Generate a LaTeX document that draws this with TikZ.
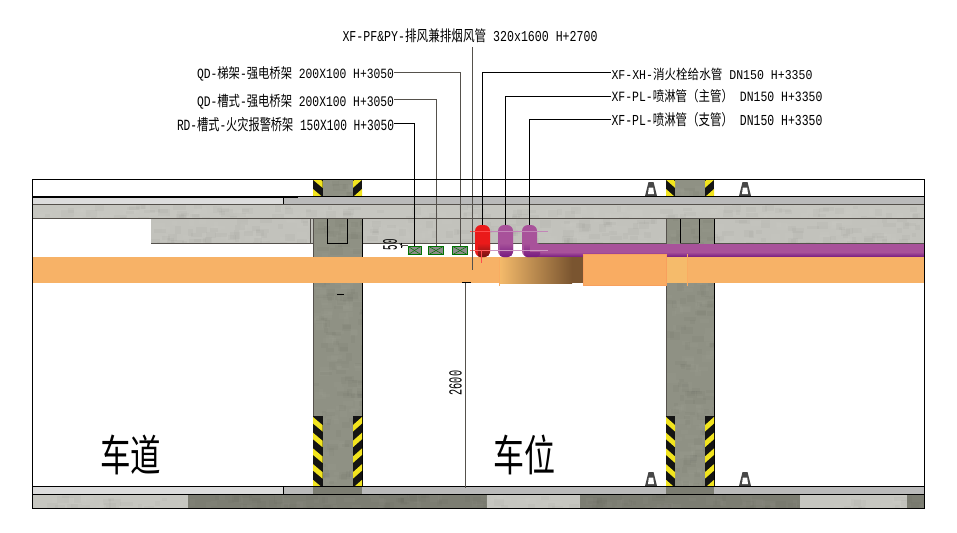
\documentclass[tikz,border=0pt]{standalone}
\usepackage{fontspec}
\usepackage{graphicx}
\setmainfont{Liberation Mono}
\newfontfamily\cjk{Noto Sans CJK SC}
\usetikzlibrary{calc}
\definecolor{slabc}{HTML}{C6C6C0}
\definecolor{beamc}{HTML}{C2C2BC}
\definecolor{colc}{HTML}{8F9184}
\definecolor{colb}{HTML}{7C7D72}
\definecolor{lightband}{HTML}{DCDCDC}
\definecolor{midband}{HTML}{BABABA}
\definecolor{duct}{HTML}{F7B267}
\definecolor{ductb}{HTML}{F9AC62}
\definecolor{ductl}{HTML}{F5BB6B}
\definecolor{ductm}{HTML}{D9A25F}
\definecolor{brownd}{HTML}{7A5530}
\definecolor{pur}{HTML}{A8529A}
\definecolor{purd}{HTML}{761A80}
\definecolor{redp}{HTML}{EA1A1A}
\definecolor{redd}{HTML}{701414}
\definecolor{edge}{HTML}{55514C}
\definecolor{hz}{HTML}{F2E41E}
\tikzset{
  lab/.style={inner sep=0pt,outer sep=0pt,text=black},
  leader/.style={draw=edge,line width=0.7pt},
  leaderk/.style={draw=black,line width=0.8pt},
  tray/.style={rectangle,draw=green!45!black,fill=gray!90,line width=0.8pt,minimum width=#1,minimum height=8.5pt,inner sep=0pt,outer sep=0pt},
  pipe/.style={rectangle,rounded corners=6pt,fill=#1,minimum width=15pt,minimum height=32pt,inner sep=0pt,outer sep=0pt},
  thinl/.style={line width=0.5pt},
}
\newcommand\lbl[6]{\node[lab] (#1) at (#2,#3) {\resizebox*{#4pt}{#5pt}{#6}};}
\newcommand\conc[6][60]{%
  \fill[#6] (#2,#3) rectangle (#4,#5);
  \begin{scope}
    \clip (#2,#3) rectangle (#4,#5);
    \pgfmathtruncatemacro\nn{max(2,abs(#4-#2)/#1*abs(#5-#3))}
    \foreach \i in {1,...,\nn}{
      \pgfmathsetmacro\xa{#2+rnd*(#4-#2)}
      \pgfmathsetmacro\ya{#3+rnd*(#5-#3)}
      \pgfmathsetmacro\wa{4+rnd*9}
      \pgfmathsetmacro\ha{3+rnd*5}
      \pgfmathparse{rnd>0.5?"black":"white"}
      \edef\cc{\pgfmathresult}
      \fill[\cc,opacity=.022] (\xa,\ya) rectangle ++(\wa,\ha);
    }
  \end{scope}
}
\newcommand\hazard[5]{% outer x, inner x, y0, y1, first y
  \fill[black!92] (#1,#3) rectangle (#2,#4);
  \begin{scope}
    \clip (#1,#3) rectangle (#2,#4);
    \foreach \k in {0,...,6}{
      \pgfmathsetmacro\yy{#5+15.7*\k}
      \fill[hz] (#1,\yy) -- (#2,\yy+8) -- (#2,\yy+14.5) -- (#1,\yy+6.5) -- cycle;
    }
  \end{scope}
}
\newcommand\cone[2]{%
  \begin{scope}[shift={(#1,#2)}]
    \fill[black!72] (-2.5,-14) -- (2.5,-14) -- (6,0) -- (-6,0) -- cycle;
    \fill[white] (-2.2,-8.5) -- (2.2,-8.5) -- (3,-2) -- (-3,-2) -- cycle;
  \end{scope}
}
\begin{document}
\begin{tikzpicture}[x=1pt,y=-1pt]
\pgfmathsetseed{4242}
\useasboundingbox (0,0) rectangle (957,532);
\fill[white] (0,0) rectangle (957,532);

% top band and slab
\fill[lightband] (32,197) rectangle (283,204);
\fill[midband] (283,197) rectangle (924,204);
\draw[black,line width=0.8pt] (283,197) -- (283,204);
\conc{32}{204}{924}{218}{slabc}
% beam
\conc{151}{218}{924}{243}{beamc}
\draw[edge,line width=0.9pt] (151,243) -- (924,243);
\draw[edge,thinl] (310.7,218) -- (310.7,243);
% columns
\foreach \xl/\xr in {313/362,666/714}{
  \conc{\xl}{179}{\xr}{196}{colc}
  \conc{\xl}{218}{\xr}{486}{colc}
  \fill[colb] (\xl,486) rectangle (\xr,494);
  \draw[edge,line width=0.6pt] (\xl,218) -- (\xl,486);
  \draw[black,line width=0.7pt] (\xr,218) -- (\xr,486);
}
\draw[black,line width=0.7pt] (327.5,218) -- (327.5,243) -- (347.5,243) -- (347.5,218);
\draw[black,line width=0.7pt] (680,218) -- (680,243);
\draw[black,line width=0.7pt] (699,218) -- (699,243);
\draw[edge,line width=0.8pt] (680,243) -- (699,243);
\draw[edge,line width=0.8pt] (32,204) -- (924,204);
\draw[edge,line width=0.8pt] (32,218) -- (924,218);

% hazard strips
\hazard{313}{322.5}{179}{196}{173.3}
\hazard{362}{353}{179}{196}{173.3}
\hazard{666}{675}{179}{196}{173.3}
\hazard{714}{705}{179}{196}{173.3}
\hazard{313}{322.5}{416}{486}{417}
\hazard{362}{353}{416}{486}{417}
\hazard{666}{675}{416}{486}{417}
\hazard{714}{705}{416}{486}{417}

% cones
\cone{651}{196}\cone{745}{196}\cone{651}{486}\cone{745}{486}

% bottom band and slab
\fill[lightband] (32,486) rectangle (283,494);
\fill[midband] (283,486) rectangle (313,494);
\fill[midband] (362,486) rectangle (666,494);
\fill[midband] (714,486) rectangle (924,494);
\draw[black,line width=0.7pt] (283,486) -- (283,494);
\conc{32}{494}{188}{508}{slabc}
\conc{188}{494}{487}{508}{colb}
\conc{487}{494}{580}{508}{slabc}
\conc{580}{494}{800}{508}{colb}
\conc{800}{494}{906.5}{508}{slabc}
\conc{906.5}{494}{924}{508}{colb}
\draw[black,line width=0.8pt] (32,486) -- (924,486);
\draw[black,line width=0.8pt] (32,494) -- (924,494);

% purple main
\fill[pur] (537,243.5) rectangle (924,253);
\shade[top color=pur,bottom color=purd] (537,252) rectangle (924,257);

% duct
\fill[duct] (32,257) rectangle (924,283);
\begin{scope}
  \clip (499,257) rectangle (583,283);
  \shade[left color=ductl,middle color=ductm,right color=brownd] (499,257) rectangle (572,283);
  \fill[brownd] (572,257) rectangle (583,283);
\end{scope}
\fill[ductb] (583,254) rectangle (666.5,285.5);
\draw[duct!90!red,line width=0.6pt] (583,254) rectangle (666.5,285.5);
\fill[ductl] (666.5,257) rectangle (687,283);
\draw[ductb,line width=1.2pt] (687.5,254) -- (687.5,286);
\draw[ductb,line width=0.8pt] (499,257) -- (499,286);

% trays
\node[tray=13pt] (t1) at (414.5,250.5) {};
\node[tray=15pt] (t2) at (436,250.5) {};
\node[tray=15pt] (t3) at (460,250.5) {};
\foreach \n in {t1,t2,t3}{
  \draw[green!45!black,line width=0.5pt] (\n.north west) -- (\n.center) -- (\n.north east);
  \draw[green!45!black,line width=0.5pt] (\n.south west) -- (\n.center) -- (\n.south east);
}

% pipes
\node[pipe=redp] (p1) at (482.5,241) {};
\node[pipe=pur] (p2) at (505.5,241) {};
\node[pipe=pur] (p3) at (529.5,241) {};
\begin{scope}
  \clip[rounded corners=5pt] (475,225) rectangle (490,257);
  \shade[top color=redp,bottom color=redd] (478,243) rectangle (491,257);
\end{scope}
\begin{scope}
  \clip[rounded corners=5pt] (498,225) rectangle (513,257);
  \shade[top color=pur,bottom color=purd] (500,243) rectangle (514,257);
\end{scope}
\shade[top color=pur,bottom color=purd,rounded corners=3pt] (524,243) rectangle (540,257);
\fill[pur] (530,243.5) rectangle (545,252);
\draw[red!70,thinl] (470,231) -- (490,231);
\draw[red!60,thinl] (470,250.5) -- (490,250.5);
\draw[pur!70,thinl] (490,231) -- (548,231);
\draw[pur!60,thinl] (490,250.5) -- (548,250.5);
\draw[red!70,line width=0.6pt] (481,250) -- (481,263);

% dimensions
\coordinate (dimT) at (465.5,282.5);
\coordinate (dimB) at (465.5,488);
\draw[edge,thinl] (dimT) -- (dimB);
\draw[black,line width=0.8pt] (462,282.5) -- (471,282.5);
\draw[black,thinl] (399.5,243.5) -- (402.5,247);
\draw[black,thinl] (401,242.5) -- (401,247.5);
\draw[edge,thinl] (401,245) -- (408,245);
\draw[black,line width=0.7pt] (337,294) -- (344,294);
\node[lab,rotate=90] (d50) at (390,244.5) {\resizebox*{11pt}{14pt}{50}};
\node[lab,rotate=90] (d2600) at (455.5,383) {\resizebox*{24.5pt}{12.5pt}{2600}};

% labels
\lbl{lPF}{470}{36}{255}{14}{XF-PF\&PY-{\cjk 排风兼排烟风管} 320x1600 H+2700}
\lbl{lQ1}{295.5}{73.5}{197}{14.5}{QD-{\cjk 梯架}-{\cjk 强电桥架} 200X100 H+3050}
\lbl{lQ2}{295.5}{101.5}{197}{15}{QD-{\cjk 槽式}-{\cjk 强电桥架} 200X100 H+3050}
\lbl{lR}{285.5}{124.5}{217}{14.5}{RD-{\cjk 槽式}-{\cjk 火灾报警桥架} 150X100 H+3050}
\lbl{lX}{712}{74}{201}{12.5}{XF-XH-{\cjk 消火栓给水管} DN150 H+3350}
\lbl{lP1}{717}{96.5}{211}{13.5}{XF-PL-{\cjk 喷淋管（主管）} DN150 H+3350}
\lbl{lP2}{717}{119.5}{211}{14.5}{XF-PL-{\cjk 喷淋管（支管）} DN150 H+3350}
\node[lab] (road) at (130.5,455) {\resizebox*{61pt}{40pt}{\cjk 车道}};
\node[lab] (bay) at (524,455) {\resizebox*{62pt}{40pt}{\cjk 车位}};

% leaders
\draw[leader] ([yshift=1pt]lQ1.east) -| (t3.north);
\draw[leader] ([yshift=2pt]lQ2.east) -| (t2.north);
\draw[leaderk] ([yshift=1pt]lR.east) -| (t1.north);
\coordinate (ductend) at (472.3,270);
\draw[leader] ([xshift=2.3pt,yshift=-4pt]lPF.south) -- (ductend);
\draw[leaderk] ([yshift=1.5pt,xshift=-1pt]lX.west) -| (p1.north);
\draw[leaderk] ([yshift=0pt,xshift=-1pt]lP1.west) -| (p2.north);
\draw[leaderk] ([yshift=0.5pt,xshift=-1pt]lP2.west) -| (p3.north);

% frame
\draw[black,line width=1pt] (32,179) rectangle (924,508);
\draw[black,line width=1.2pt] (32,197) -- (298,197);
\draw[black,line width=1.6pt] (298,196.5) -- (924,196.5);
\end{tikzpicture}
\end{document}
